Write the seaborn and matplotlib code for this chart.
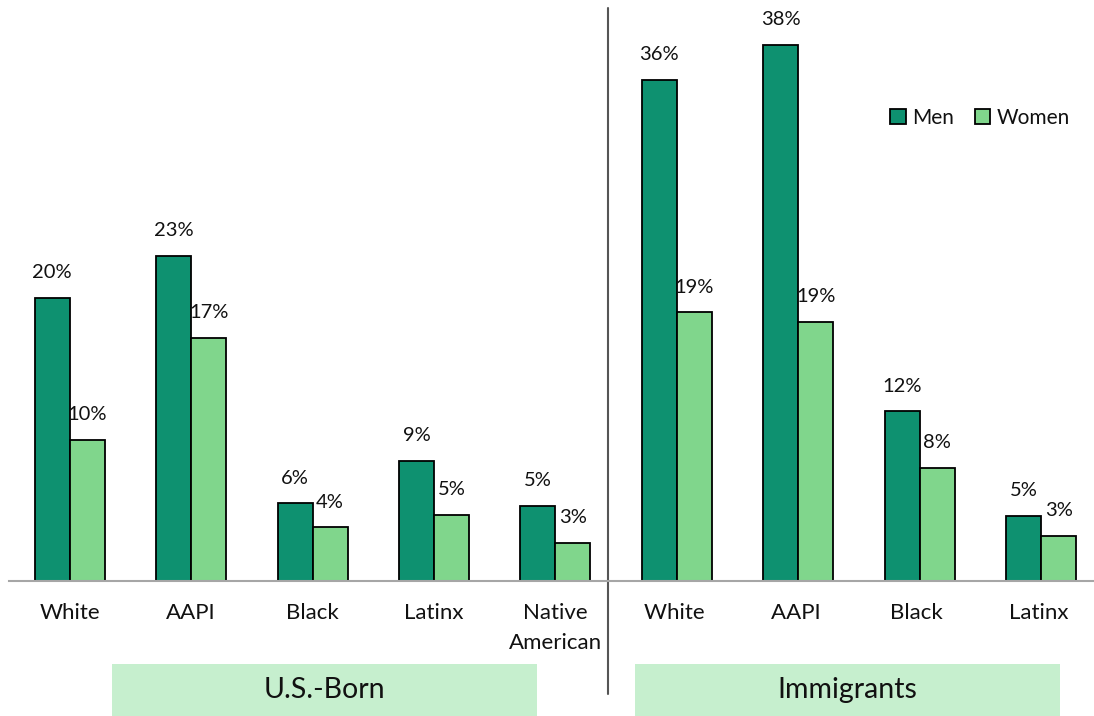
import matplotlib
matplotlib.use("Agg")
import matplotlib.pyplot as plt
import seaborn as sns
import pandas as pd
from matplotlib.patches import Rectangle

categories = ["White", "AAPI", "Black", "Latinx", "Native\nAmerican",
              "White ", "AAPI ", "Black ", "Latinx "]
men = [20.0, 23.0, 5.5, 8.5, 5.3, 35.4, 37.9, 12.0, 4.6]
women = [10.0, 17.2, 3.8, 4.7, 2.7, 19.0, 18.3, 8.0, 3.2]
men_labels = ["20%", "23%", "6%", "9%", "5%", "36%", "38%", "12%", "5%"]
women_labels = ["10%", "17%", "4%", "5%", "3%", "19%", "19%", "8%", "3%"]
groups = ["U.S.-Born", "Immigrants"]
series = ["Men", "Women"]
colors = {"Men": "#0E9170", "Women": "#80D68C"}

df = pd.DataFrame({
    "cat": categories * 2,
    "val": men + women,
    "sex": ["Men"] * len(categories) + ["Women"] * len(categories),
})

sns.set_theme(style="white")
plt.rcParams["font.family"] = ["Lato", "DejaVu Sans"]

W, H = 1094, 716
fig = plt.figure(figsize=(W / 100, H / 100), dpi=100)
ax = fig.add_axes([9 / W, (H - 581) / H, 1 - 9 / W, (581 - 8) / H])

sns.barplot(data=df, x="cat", y="val", hue="sex", order=categories,
            hue_order=series, palette=colors, width=0.577, gap=0,
            saturation=1, edgecolor="black", linewidth=1.3, ax=ax, legend=False)

ax.set_xlim(-0.5, 8.435)
ax.set_ylim(0, 40.5)
for s in ["top", "right", "left"]:
    ax.spines[s].set_visible(False)
ax.spines["bottom"].set_color("#a6a6a6")
ax.spines["bottom"].set_linewidth(1.5)
ax.set_yticks([])
ax.set_xlabel("")
ax.set_ylabel("")
ax.tick_params(axis="x", length=0, pad=16, labelsize=16, labelcolor="#111111")
for t in ax.get_xticklabels():
    t.set_linespacing(1.6)

for cont, labs in zip(ax.containers, [men_labels, women_labels]):
    ax.bar_label(cont, labels=labs, padding=12, fontsize=14.5, color="#111111")

# divider line
xdiv = (608 - 9) / (W - 9) * (8.435 + 0.5) - 0.5
ax.plot([xdiv, xdiv], [-(694 - 581) / 14.15, (581 - 8) / 14.15],
        color="#555555", lw=1.5, clip_on=False)

# group boxes
for (x0, x1), name in zip([(112, 537), (635, 1060)], groups):
    fig.patches.append(Rectangle((x0 / W, 0), (x1 - x0) / W, (716 - 664) / H,
                                 transform=fig.transFigure, facecolor="#C6EFCE",
                                 edgecolor="none"))
    fig.text((x0 + x1) / 2 / W, (716 - 690) / H, name, ha="center", va="center",
             fontsize=20.5, color="#111111")

handles = [Rectangle((0, 0), 1, 1, facecolor=colors[s], edgecolor="black", lw=1.3)
           for s in series]
fig.legend(handles, series, loc="center", bbox_to_anchor=(980 / W, (716 - 118) / H),
           ncol=2, frameon=False, fontsize=15, handlelength=0.75, handleheight=0.75,
           handletextpad=0.3, columnspacing=1.0, labelcolor="#111111")

fig.savefig("out.png", dpi=100, facecolor="white")
